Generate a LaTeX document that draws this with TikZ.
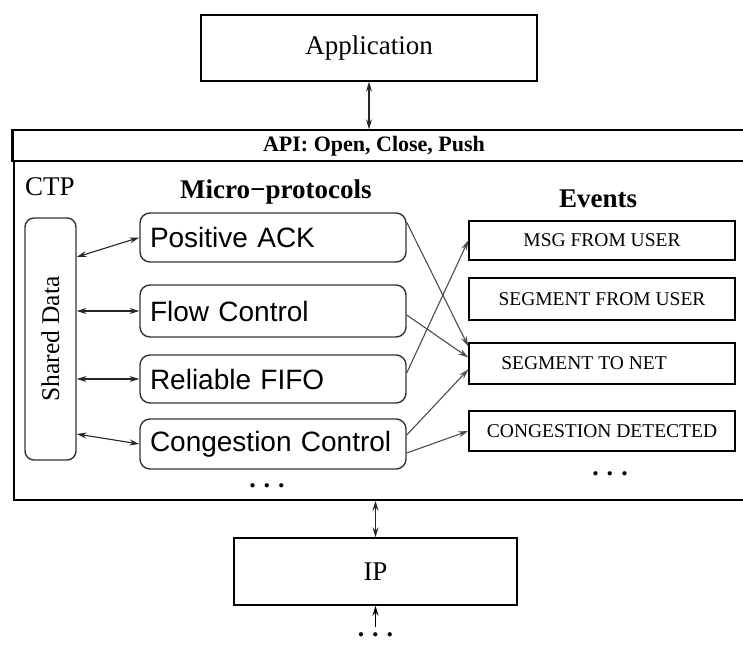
\documentclass[tikz,border=0pt]{standalone}
\usepackage{fontspec}
\setmainfont{Liberation Serif}
\setsansfont{Liberation Sans}
\usetikzlibrary{arrows.meta}
\newcommand{\moredots}{\bfseries\fontsize{26}{26}\selectfont .\hspace{8pt}.\hspace{8pt}.}
\tikzset{
  layer/.style={draw, line width=1.5pt, inner sep=0pt, font=\fontsize{27}{30}\selectfont},
  band/.style={draw, line width=1.5pt, inner sep=0pt},
  heading/.style={inner sep=0pt, font=\fontsize{27}{30}\selectfont},
  proto/.style={draw=black!80, line width=1.4pt, rounded corners=10pt, minimum width=266pt,
    text width=246pt, align=left, inner xsep=10pt, inner ysep=0pt,
    font=\sffamily\fontsize{28}{30}\selectfont},
  event/.style={draw, line width=1.5pt, minimum width=266pt, inner sep=0pt,
    font=\fontsize{19.5}{22}\selectfont},
  link/.style={<->, draw=black!85, line width=1.1pt},
  trig/.style={->, draw=black!70, line width=1.1pt}
}
\begin{document}
\begin{tikzpicture}[x=1pt,y=-1pt,>={Stealth[length=10pt,width=6pt,inset=3.5pt]}]
          \useasboundingbox (0,0) rectangle (743,645);
          \node[layer, minimum width=336pt, minimum height=66pt] (app) at (369,48) {Application};
          \node[band, minimum width=737pt, minimum height=31pt] (api) at (381.5,145.5) {};
          \draw[line width=3.5pt] (api.north west) -- (api.south west);
          \node[font=\bfseries\fontsize{22}{24}\selectfont] (apitext) at (374,146) {API: Open, Close, Push};
          \node[band, minimum width=736pt, minimum height=339pt] (ctp) at (382,330.5) {};
          \node[heading, anchor=base west] (ctplabel) at (25,195) {CTP};
          \node[heading, anchor=base west, font=\bfseries\fontsize{27}{30}\selectfont] (microlabel) at (180,198) {Micro−protocols};
          \node[heading, anchor=base, font=\bfseries\fontsize{27}{30}\selectfont] (eventlabel) at (598,207) {Events};
          \node[draw=black!80, line width=1.4pt, rounded corners=9pt, minimum width=51pt, minimum height=242pt,
            inner sep=0pt, font=\fontsize{25.5}{28}\selectfont] (shared) at (50.5,339) {\rotatebox{90}{Shared Data}};
          \node[proto, minimum height=49pt] (ack) at (273,237.5) {Positive ACK};
          \node[proto, minimum height=52pt] (flow) at (273,311) {Flow Control};
          \node[proto, minimum height=48pt] (fifo) at (273,379) {Reliable FIFO};
          \node[proto, minimum height=50pt] (cong) at (273,444) {Congestion Control};
          \node[event, minimum height=39pt] (msg) at (602,240.5) {MSG FROM USER};
          \node[event, minimum height=42pt] (seguser) at (602,299) {SEGMENT FROM USER};
          \node[event, minimum height=41pt] (segnet) at (602,363.5) {\hspace*{-36pt}SEGMENT TO NET};
          \node[event, minimum height=40pt] (detect) at (602,431) {CONGESTION DETECTED};
          \node[anchor=base] (protodots) at (267,487) {\moredots};
          \node[anchor=base] (eventdots) at (610,475) {\moredots};
          \node[layer, minimum width=283pt, minimum height=67pt] (ip) at (375.5,571.5) {IP};
          \node[anchor=base, inner sep=0pt] (ipdots) at (375.5,636) {\moredots};
          \coordinate (netin) at (375.5,627);
          \draw[link] (app.south) -- (app.south |- api.north);
          \draw[link] (ip.north |- ctp.south) -- (ip.north);
          \draw[->, line width=1.1pt] (netin) -- (ip.south);
          \draw[link] ([yshift=82pt]shared.east) -- (ack.west);
          \draw[link] (shared.east |- flow.west) -- (flow.west);
          \draw[link] (shared.east |- fifo.west) -- (fifo.west);
          \draw[link] ([yshift=-95pt]shared.east) -- (cong.west);
          \draw[trig] ([yshift=-10pt]ack.north east) -- ([yshift=-4pt]segnet.north west);
          \draw[trig] ([yshift=-4pt]flow.east) -- ([yshift=6pt]segnet.west);
          \draw[trig] ([yshift=6pt]fifo.east) -- (msg.west);
          \draw[trig] ([yshift=9pt]cong.east) -- ([yshift=-6pt]segnet.west);
          \draw[trig] ([yshift=-9pt]cong.east) -- (detect.west);
    \end{tikzpicture}
\end{document}
